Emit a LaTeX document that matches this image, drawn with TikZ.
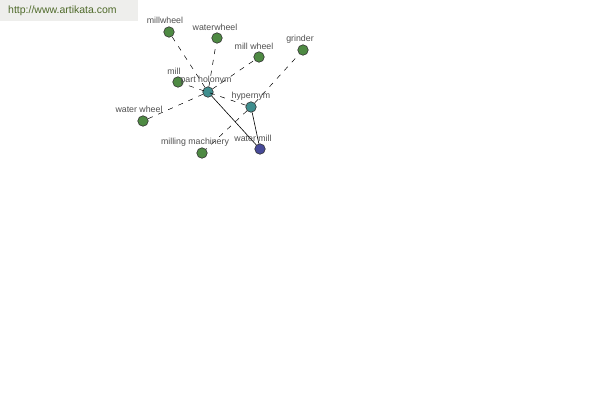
\documentclass[tikz,border=0pt]{standalone}
\usepackage{fontspec}
\setmainfont{Liberation Sans}
\definecolor{gnode}{HTML}{4E8A43}
\definecolor{tnode}{HTML}{3F8E8E}
\definecolor{bnode}{HTML}{474A99}
\definecolor{urlc}{HTML}{4F6A2A}
\definecolor{wm}{HTML}{EEEEEC}
\definecolor{lbl}{HTML}{505050}
\begin{document}
\begin{tikzpicture}[x=1pt,y=-1pt,
  vert/.style={circle,draw=black!80,line width=0.6pt,minimum size=10.5pt,inner sep=0pt},
  green/.style={vert,fill=gnode},
  teal/.style={vert,fill=tnode},
  blue/.style={vert,fill=bnode},
  lab/.style={text=lbl,font=\fontsize{8.8}{10}\selectfont,inner sep=0pt},
  dashedge/.style={draw=black,line width=0.5pt,dash pattern=on 5pt off 6pt},
  solidedge/.style={draw=black,line width=0.6pt}]
\useasboundingbox (0,0) rectangle (600,400);
\fill[wm] (0,0) rectangle (138,21);
\node[text=urlc,font=\fontsize{10.5}{12}\selectfont,anchor=west,inner sep=0pt] (url) at (8,11) {http://www.artikata.com};

\node[green] (millwheel) at (169,32) {};
\node[green] (waterwheel) at (217,38) {};
\node[green] (millwheelb) at (259,57) {};
\node[green] (grinder) at (303,50) {};
\node[green] (mill) at (178,82) {};
\node[green] (waterwheelb) at (143,121) {};
\node[green] (milling) at (202,153) {};
\node[teal] (parth) at (208,92) {};
\node[teal] (hyper) at (251,107) {};
\node[blue] (watermill) at (260,149) {};

\draw[dashedge] (parth) -- (millwheel);
\draw[dashedge] (parth) -- (waterwheel);
\draw[dashedge] (parth) -- (millwheelb);
\draw[dashedge] (parth) -- (waterwheelb);
\draw[dashedge] (hyper) -- (grinder);
\draw[dashedge] (hyper) -- (milling);
\draw[dashedge] (hyper) -- (mill);
\draw[solidedge] (watermill) -- (parth);
\draw[solidedge] (watermill) -- (hyper);

% labels
\node[lab] (l1) at (165,20) {millwheel};
\node[lab] (l2) at (215,27) {waterwheel};
\node[lab] (l3) at (254,46) {mill wheel};
\node[lab] (l4) at (300,39) {grinder};
\node[lab] (l5) at (174,71) {mill};
\node[lab] (l6) at (206,80) {part holonym};
\node[lab] (l7) at (251,96) {hypernym};
\node[lab] (l8) at (139,109) {water wheel};
\node[lab] (l9) at (195,142) {milling machinery};
\node[lab] (l10) at (253,138) {water mill};
\end{tikzpicture}
\end{document}
